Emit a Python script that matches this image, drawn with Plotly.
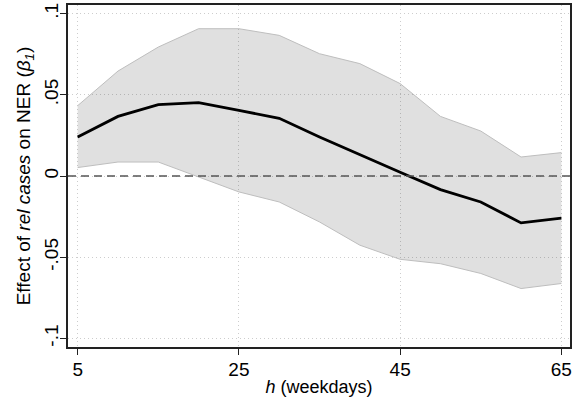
import plotly.graph_objects as go

h = [5, 10, 15, 20, 25, 30, 35, 40, 45, 50, 55, 60, 65]
beta = [0.024, 0.0367, 0.0439, 0.0452, 0.0404, 0.0355, 0.0240, 0.0130, 0.0023, -0.0084, -0.0160, -0.0289, -0.0260]
upper = [0.0433, 0.0646, 0.0794, 0.0907, 0.0907, 0.0866, 0.0753, 0.0692, 0.0569, 0.0367, 0.0277, 0.0117, 0.0144]
lower = [0.0052, 0.0086, 0.0086, -0.0006, -0.0098, -0.0160, -0.0283, -0.0426, -0.0513, -0.0540, -0.0600, -0.0693, -0.0662]

xticks = [5, 25, 45, 65]
yticks = [-0.1, -0.05, 0, 0.05, 0.1]
yticktext = ["-.1", "-.05", "0", ".05", ".1"]

font = "Liberation Sans, Arial, Helvetica, sans-serif"

fig = go.Figure()
fig.add_trace(go.Scatter(x=h, y=lower, mode="lines",
                         line=dict(color="rgb(190,190,190)", width=1),
                         showlegend=False, hoverinfo="skip"))
fig.add_trace(go.Scatter(x=h, y=upper, mode="lines", fill="tonexty",
                         fillcolor="rgba(0,0,0,0.12)",
                         line=dict(color="rgb(190,190,190)", width=1),
                         showlegend=False, hoverinfo="skip"))
fig.add_trace(go.Scatter(x=h, y=beta, mode="lines",
                         line=dict(color="black", width=2.8),
                         showlegend=False))
fig.add_hline(y=0, line=dict(color="rgb(85,85,85)", width=1.5, dash="8px,5px"), layer="above")

fig.update_layout(
    width=575, height=402,
    margin=dict(l=68, r=3, t=5, b=55),
    paper_bgcolor="white", plot_bgcolor="white",
    font=dict(family=font, size=19, color="black"),
    xaxis=dict(range=[3.8, 66.07], tickvals=xticks, ticks="outside", ticklen=6,
               tickcolor="#222", tickwidth=1, tickfont=dict(size=19),
               ticklabelstandoff=-2,
               showline=True, mirror=True, linecolor="#222", linewidth=1.5,
               showgrid=True, gridcolor="rgb(205,205,205)", griddash="1px,3px", gridwidth=1,
               zeroline=False,
               title=dict(text="<i>h</i> (weekdays)", standoff=2, font=dict(size=18))),
    yaxis=dict(range=[-0.1053, 0.1053], tickvals=yticks, ticktext=yticktext,
               tickangle=-90, ticks="outside", ticklen=6, tickcolor="#222", tickwidth=1,
               tickfont=dict(size=19), ticklabelstandoff=-5,
               showline=True, mirror=True, linecolor="#222", linewidth=1.5,
               showgrid=True, gridcolor="rgb(205,205,205)", griddash="1px,3px", gridwidth=1,
               zeroline=False,
               title=dict(text="Effect of <i>rel cases</i> on NER (<i>β<sub>1</sub></i>)",
                          standoff=5, font=dict(size=19))),
)

fig.write_html("out.html")
